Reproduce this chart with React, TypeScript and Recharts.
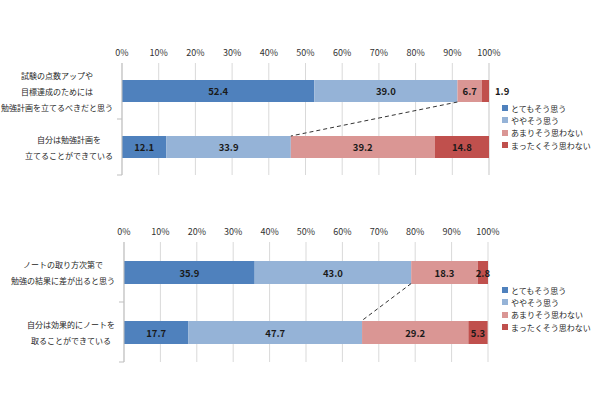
import React from "react";
import { BarChart, Bar, XAxis, YAxis, CartesianGrid, LabelList, Legend, ReferenceLine } from "recharts";

// answer scale (legend order = stack order)
const seriesNames = ["とてもそう思う", "ややそう思う", "あまりそう思わない", "まったくそう思わない"];
const COLORS = ["#4F81BD", "#95B3D7", "#DA9694", "#C0504D"];
const xTicks = [0, 10, 20, 30, 40, 50, 60, 70, 80, 90, 100];

// chart 1: study plans
const planCategories = [
  "試験の点数アップや\n目標達成のためには\n勉強計画を立てるべきだと思う",
  "自分は勉強計画を\n立てることができている",
];
const planShould = [52.4, 39.0, 6.7, 1.9];
const planCanDo = [12.1, 33.9, 39.2, 14.8];

// chart 2: note taking
const noteCategories = [
  "ノートの取り方次第で\n勉強の結果に差が出ると思う",
  "自分は効果的にノートを\n取ることができている",
];
const noteMatters = [35.9, 43.0, 18.3, 2.8];
const noteCanDo = [17.7, 47.7, 29.2, 5.3];

const FONT = "'Noto Sans CJK JP', 'Noto Sans', sans-serif";

const buildRows = (cats: string[], rows: number[][]) =>
  cats.map((name, i) => {
    const row: any = { name };
    seriesNames.forEach((s, j) => (row[s] = rows[i][j]));
    return row;
  });

let ctx: CanvasRenderingContext2D | null = null;
const textWidth = (t: string, size: number) => {
  if (!ctx) ctx = document.createElement("canvas").getContext("2d");
  if (!ctx) return t.length * size;
  ctx.font = `${size}px ${FONT}`;
  return ctx.measureText(t).width;
};

const CategoryTick = (props: any) => {
  const { x, y, payload, band } = props;
  const lines = String(payload.value).split("\n");
  const size = 8;
  const lh = 16;
  const w = Math.max(...lines.map((l) => textWidth(l, size)));
  const cx = x - 9 - w / 2;
  const half = payload.offset > 0 ? payload.offset : band / 2;
  const y0 = y - ((lines.length - 1) * lh) / 2;
  return (
    <g>
      <line x1={x - 5} x2={x} y1={y + half} y2={y + half} stroke="#BFBFBF" />
      {lines.map((l, i) => (
        <text key={i} x={cx} y={y0 + i * lh} textAnchor="middle" dominantBaseline="central" fontSize={size} fill="#262626">
          {l}
        </text>
      ))}
    </g>
  );
};

const BarValue = (props: any) => {
  const { x, y, width, height, value } = props;
  const outside = value < 2.5;
  return (
    <text
      x={outside ? x + width + 6 : x + width / 2}
      y={y + height / 2}
      textAnchor={outside ? "start" : "middle"}
      dominantBaseline="central"
      fontSize={9.5}
      fontWeight="bold"
      fill="#1a1a1a"
    >
      {Number(value).toFixed(1)}
    </text>
  );
};

const LegendBox = (props: any) => {
  const items = [...(props.payload || [])].sort(
    (a: any, b: any) => seriesNames.indexOf(a.value) - seriesNames.indexOf(b.value)
  );
  return (
    <div style={{ fontSize: 8, color: "#262626", fontFamily: FONT }}>
      {items.map((p: any) => (
        <div key={p.value} style={{ display: "flex", alignItems: "center", height: 12.3 }}>
          <span style={{ width: 6, height: 6, background: p.color, marginRight: 3 }} />
          <span>{p.value}</span>
        </div>
      ))}
    </div>
  );
};

type PanelProps = {
  top: number;
  height: number;
  categories: string[];
  rows: number[][];
  axisWidth: number;
  axisHeight: number;
  right: number;
  bottom: number;
  barSize: number;
  legendTop: number;
};

const Panel = (p: PanelProps) => {
  const data = buildRows(p.categories, p.rows);
  const band = (p.height - p.axisHeight - p.bottom) / p.categories.length;
  // boundary between "agree" and "disagree"
  const agree = p.rows.map((r) => r[0] + r[1]);
  const half = p.barSize / 2;
  const Dashed = (lp: any) => (
    <line
      x1={lp.x1}
      y1={lp.y1 + half}
      x2={lp.x2}
      y2={lp.y2 - half}
      stroke="#333"
      strokeWidth={1}
      strokeDasharray="4 3"
    />
  );
  return (
    <div style={{ position: "absolute", left: 0, top: p.top }}>
      <BarChart
        width={600}
        height={p.height}
        data={data}
        layout="vertical"
        margin={{ top: 0, right: p.right, bottom: p.bottom, left: 0 }}
        barCategoryGap={0}
      >
        <CartesianGrid horizontal={false} stroke="#D9D9D9" />
        <XAxis
          type="number"
          orientation="top"
          domain={[0, 100]}
          ticks={xTicks}
          tickFormatter={(v) => `${v}%`}
          height={p.axisHeight}
          axisLine={false}
          tickLine={false}
          tickSize={0}
          tickMargin={7}
          tick={{ fontSize: 9, fill: "#333" }}
          interval={0}
        />
        <YAxis
          type="category"
          dataKey="name"
          width={p.axisWidth}
          axisLine={{ stroke: "#BFBFBF" }}
          tickLine={false}
          tickSize={0}
          tickMargin={0}
          interval={0}
          tick={<CategoryTick band={band} />}
        />
        <Legend
          layout="horizontal"
          align="center"
          verticalAlign="middle"
          content={<LegendBox />}
          wrapperStyle={{ left: 502, top: p.legendTop, width: 98, right: "auto", bottom: "auto" }}
        />
        {seriesNames.map((s, i) => (
          <Bar key={s} dataKey={s} stackId="a" fill={COLORS[i]} barSize={p.barSize} isAnimationActive={false}>
            <LabelList dataKey={s} content={<BarValue />} />
          </Bar>
        ))}
        <ReferenceLine
          segment={[
            { x: agree[0], y: p.categories[0] },
            { x: agree[1], y: p.categories[1] },
          ]}
          shape={Dashed}
          ifOverflow="visible"
        />
      </BarChart>
    </div>
  );
}

export default function App() {
  return (
    <div
      style={{
        position: "absolute",
        left: 0,
        top: 0,
        width: 600,
        height: 399,
        background: "#fff",
        fontFamily: FONT,
      }}
    >
      <Panel
        top={0}
        height={200}
        categories={planCategories}
        rows={[planShould, planCanDo]}
        axisWidth={122}
        axisHeight={63}
        right={111}
        bottom={25}
        barSize={22}
        legendTop={102}
      />
      <Panel
        top={200}
        height={199}
        categories={noteCategories}
        rows={[noteMatters, noteCanDo]}
        axisWidth={124}
        axisHeight={42}
        right={112}
        bottom={37}
        barSize={23}
        legendTop={84}
      />
    </div>
  );
}
